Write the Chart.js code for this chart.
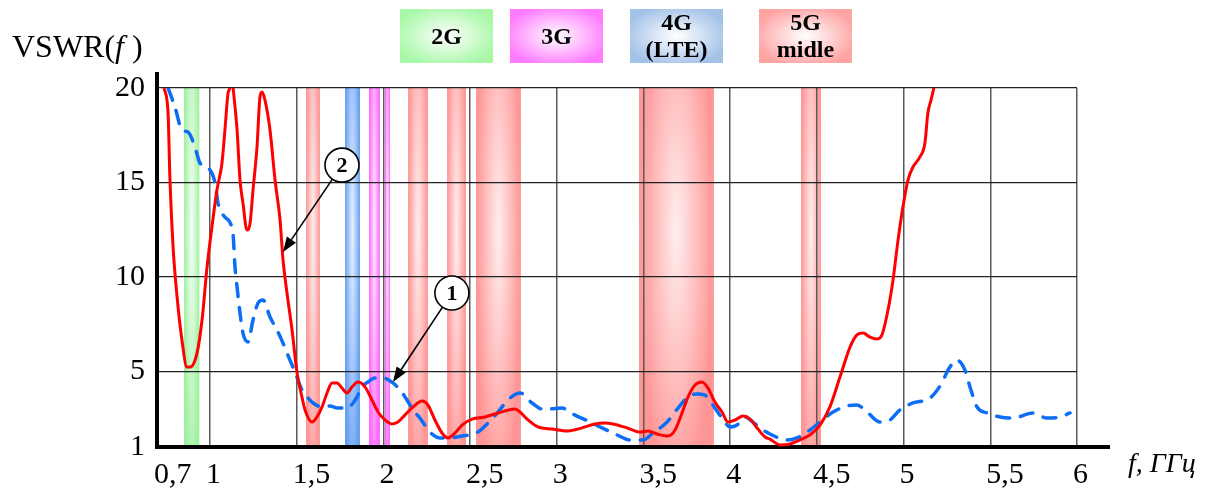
<!DOCTYPE html>
<html>
<head>
<meta charset="utf-8">
<script src="https://cdn.jsdelivr.net/npm/chart.js@4.4.1/dist/chart.umd.min.js"></script>
<style>
  body { margin: 0; background: #fff; }
  #wrap { position: relative; width: 1216px; height: 490px; font-family: "Liberation Serif", "Times New Roman", serif; }
  #wrap canvas { position: absolute; left: 0; top: 0; }
  .lbl { position: absolute; z-index: 2; color: #000; white-space: nowrap; }
  .box { position: absolute; z-index: 2; top: 9px; width: 93px; height: 54px; display: flex; align-items: center; justify-content: center;
         text-align: center; font-weight: bold; font-size: 24px; line-height: 27px; }
</style>
</head>
<body>
<div id="wrap">
  <canvas id="myChart" width="1216" height="490"></canvas>
  <div class="lbl" style="left:12px;top:30px;font-size:32px;line-height:32px;">VSWR(<i>f</i>&nbsp;)</div>
  <div class="lbl" style="left:1128px;top:449px;font-size:28px;line-height:28px;font-style:italic;">f, ГГц</div>
  <div class="box" style="left:400px;background:radial-gradient(ellipse at center,#ffffff 0%,#a8f8a8 80%);">2G</div>
  <div class="box" style="left:510px;background:radial-gradient(ellipse at center,#ffffff 0%,#ff7cff 80%);">3G</div>
  <div class="box" style="left:630px;background:radial-gradient(ellipse at center,#ffffff 0%,#a3c2e8 80%);">4G<br>(LTE)</div>
  <div class="box" style="left:759px;background:radial-gradient(ellipse at center,#ffffff 0%,#ffa3a3 80%);">5G<br>midle</div>
</div>
<script>
// частота, ГГц / КСВН

const xTicks = [0.7, 1, 1.5, 2, 2.5, 3, 3.5, 4, 4.5, 5, 5.5, 6];
const yTicks = [1, 5, 10, 15, 20];

// кривая 2 (красная)
const redFreq = [
  0.735, 0.758, 0.769, 0.787, 0.810, 0.838, 0.867, 0.885, 0.925, 0.954,
  0.983, 1.011, 1.040, 1.069, 1.086, 1.104, 1.115, 1.124, 1.133, 1.156,
  1.173, 1.190, 1.213, 1.231, 1.248, 1.271, 1.288, 1.300, 1.317, 1.346,
  1.375, 1.404, 1.421, 1.444, 1.473, 1.502, 1.530, 1.548, 1.588, 1.617,
  1.646, 1.675, 1.703, 1.732, 1.761, 1.790, 1.819, 1.853, 1.894, 1.934,
  1.969, 2.009, 2.049, 2.084, 2.124, 2.171, 2.223, 2.257, 2.297, 2.338,
  2.372, 2.413, 2.453, 2.511, 2.586, 2.661, 2.759, 2.788, 2.834, 2.891,
  2.972, 3.064, 3.145, 3.220, 3.278, 3.324, 3.405, 3.480, 3.526, 3.578,
  3.641, 3.682, 3.722, 3.757, 3.797, 3.837, 3.872, 3.912, 3.953, 3.987,
  4.028, 4.074, 4.114, 4.155, 4.201, 4.229, 4.287, 4.345, 4.402, 4.460,
  4.518, 4.575, 4.633, 4.691, 4.731, 4.766, 4.806, 4.847, 4.875, 4.910,
  4.939, 4.968, 4.996, 5.025, 5.054, 5.094, 5.123, 5.140, 5.158, 5.175, 5.19
];
const redVswr = [
  20.0, 18.68, 15.13, 11.58, 8.94, 6.66, 5.23, 5.23, 5.97, 7.72,
  10.53, 12.64, 14.60, 16.03, 17.78, 19.73, 20.05, 21.0, 20.05, 17.78,
  15.13, 13.91, 12.48, 12.85, 14.60, 16.88, 19.52, 19.79, 19.36, 17.78,
  15.13, 13.01, 10.90, 9.15, 7.19, 4.92, 3.65, 2.96, 2.32, 2.59,
  3.12, 3.86, 4.39, 4.39, 4.12, 3.86, 4.18, 4.44, 4.18, 3.49,
  2.85, 2.43, 2.22, 2.32, 2.69, 3.12, 3.43, 3.22, 2.43, 1.74,
  1.48, 1.74, 2.16, 2.48, 2.59, 2.80, 3.01, 2.85, 2.43, 2.06,
  1.95, 1.85, 2.01, 2.22, 2.27, 2.22, 2.01, 1.79, 1.85, 1.69,
  1.58, 1.90, 2.80, 3.65, 4.28, 4.44, 4.12, 3.38, 2.85, 2.32,
  2.43, 2.64, 2.48, 2.01, 1.53, 1.42, 1.11, 1.16, 1.37, 1.64,
  2.16, 3.12, 4.70, 6.29, 6.93, 7.03, 6.82, 6.72, 6.93, 8.25,
  9.84, 11.95, 13.70, 15.13, 15.82, 16.35, 17.09, 18.68, 19.36, 20.05, 21.0
];

// кривая 1 (синяя, пунктир)
const blueFreq = [
  0.758, 0.798, 0.838, 0.873, 0.913, 0.942, 1.000, 1.029, 1.046, 1.086,
  1.132, 1.144, 1.156, 1.173, 1.190, 1.219, 1.248, 1.277, 1.306, 1.346,
  1.386, 1.421, 1.461, 1.490, 1.530, 1.565, 1.594, 1.646, 1.692, 1.738,
  1.796, 1.825, 1.848, 1.876, 1.911, 1.951, 1.998, 2.055, 2.096, 2.136,
  2.171, 2.211, 2.251, 2.286, 2.326, 2.372, 2.453, 2.545, 2.603, 2.661,
  2.718, 2.788, 2.857, 2.915, 2.949, 3.030, 3.105, 3.180, 3.261, 3.347,
  3.422, 3.497, 3.555, 3.636, 3.699, 3.757, 3.808, 3.854, 3.900, 3.953,
  3.999, 4.039, 4.085, 4.131, 4.189, 4.229, 4.327, 4.385, 4.460, 4.518,
  4.593, 4.673, 4.731, 4.789, 4.864, 4.921, 4.979, 5.054, 5.152, 5.221,
  5.256, 5.308, 5.354, 5.383, 5.423, 5.481, 5.556, 5.631, 5.746, 5.827, 5.902, 5.960
];
const blueVswr = [
  20.0, 18.99, 17.78, 17.67, 16.88, 16.03, 15.66, 14.97, 13.91, 13.17,
  12.33, 10.53, 9.47, 8.09, 7.03, 6.56, 7.72, 8.62, 8.78, 7.88,
  7.19, 6.50, 5.60, 4.97, 4.02, 3.59, 3.33, 3.12, 3.17, 3.06,
  3.06, 3.33, 3.65, 4.18, 4.44, 4.65, 4.65, 4.39, 4.02, 3.49,
  2.96, 2.53, 2.01, 1.64, 1.48, 1.48, 1.58, 1.79, 2.27, 2.85,
  3.49, 3.86, 3.33, 3.01, 3.01, 3.06, 2.69, 2.38, 2.01, 1.64,
  1.37, 1.37, 1.74, 2.32, 3.06, 3.65, 3.81, 3.75, 3.22, 2.53,
  2.06, 2.16, 2.59, 2.32, 1.90, 1.69, 1.37, 1.48, 1.90, 2.32,
  2.85, 3.17, 3.22, 2.85, 2.32, 2.43, 2.96, 3.33, 3.59, 4.39,
  5.07, 5.60, 5.07, 4.18, 3.12, 2.80, 2.59, 2.53, 2.80, 2.53, 2.59, 2.80
];

// диапазоны связи, ГГц
const bandStart = [0.85, 1.553, 1.778, 1.917, 2.009, 2.142, 2.367, 2.534, 3.474, 4.408];
const bandEnd   = [0.94, 1.634, 1.865, 1.980, 2.038, 2.257, 2.476, 2.793, 3.906, 4.524];
const bandType  = ['2G', '5G', '4G', '3G', '3G', '5G', '5G', '5G', '5G', '5G'];

const bandStyle = {
  '2G': { edge: '#a0f0a0', mid: '#f4fff4' },
  '3G': { edge: '#ff6aff', mid: '#ffe6ff' },
  '4G': { edge: '#67a0f2', mid: '#e6f0ff' },
  '5G': { edge: '#ff9696', mid: '#ffeeee' }
};

// выноски: номер кривой, кружок и конец стрелки (ГГц, КСВН)
const notes = [
  { text: '2', cx: 1.761, cy: 15.92, tx: 1.421, ty: 11.32 },
  { text: '1', cx: 2.395, cy: 9.15, tx: 2.055, ty: 4.44 }
];

const toPoints = (fs, vs) => fs.map((f, i) => ({ x: f, y: vs[i] }));
const fmt = v => String(v).replace('.', ',');

const bandsPlugin = {
  id: 'bands',
  beforeDraw(chart) {
    const { ctx, chartArea: a, scales: { x } } = chart;
    const h = a.bottom - a.top;
    bandStart.forEach((s, i) => {
      const x0 = x.getPixelForValue(s);
      const x1 = x.getPixelForValue(bandEnd[i]);
      const st = bandStyle[bandType[i]];
      ctx.save();
      ctx.beginPath();
      ctx.rect(x0, a.top, x1 - x0, h);
      ctx.clip();
      ctx.translate((x0 + x1) / 2, a.top + h * 0.4);
      ctx.scale((x1 - x0) / 2, h * 0.75);
      const g = ctx.createRadialGradient(0, 0, 0, 0, 0, 1);
      g.addColorStop(0, st.mid);
      g.addColorStop(1, st.edge);
      ctx.fillStyle = g;
      ctx.fillRect(-1, -2, 2, 4);
      ctx.restore();
    });
  }
};

const axesPlugin = {
  id: 'axes',
  beforeDatasetsDraw(chart) {
    const { ctx, chartArea: a } = chart;
    ctx.save();
    ctx.strokeStyle = '#000';
    ctx.lineWidth = 4;
    ctx.beginPath();
    ctx.moveTo(a.left - 1, a.top - 16);
    ctx.lineTo(a.left - 1, a.bottom + 2);
    ctx.moveTo(a.left - 3, a.bottom);
    ctx.lineTo(a.right + 33, a.bottom);
    ctx.stroke();
    ctx.restore();
  }
};

const notesPlugin = {
  id: 'notes',
  afterDatasetsDraw(chart) {
    const { ctx, scales: { x, y } } = chart;
    const r = 17;
    notes.forEach(n => {
      const cx = x.getPixelForValue(n.cx), cy = y.getPixelForValue(n.cy);
      const tx = x.getPixelForValue(n.tx), ty = y.getPixelForValue(n.ty);
      const ang = Math.atan2(ty - cy, tx - cx);
      const sx = cx + r * Math.cos(ang), sy = cy + r * Math.sin(ang);
      const hl = 15, hw = 5.5;
      const bx = tx - hl * Math.cos(ang), by = ty - hl * Math.sin(ang);
      ctx.save();
      ctx.strokeStyle = '#000';
      ctx.fillStyle = '#000';
      ctx.lineWidth = 1.6;
      ctx.beginPath();
      ctx.moveTo(sx, sy);
      ctx.lineTo(bx, by);
      ctx.stroke();
      ctx.beginPath();
      ctx.moveTo(tx, ty);
      ctx.lineTo(bx + hw * Math.sin(ang), by - hw * Math.cos(ang));
      ctx.lineTo(bx - hw * Math.sin(ang), by + hw * Math.cos(ang));
      ctx.closePath();
      ctx.fill();
      ctx.beginPath();
      ctx.arc(cx, cy, r, 0, Math.PI * 2);
      ctx.fillStyle = '#fff';
      ctx.fill();
      ctx.lineWidth = 1.6;
      ctx.stroke();
      ctx.fillStyle = '#000';
      ctx.font = 'bold 22px "Liberation Serif", serif';
      ctx.textAlign = 'center';
      ctx.textBaseline = 'middle';
      ctx.fillText(n.text, cx, cy + 1);
      ctx.restore();
    });
  }
};

const graphArea = document.getElementById('myChart').getContext('2d');
const myChart = new Chart(graphArea, {
  type: 'line',
  data: {
    datasets: [
      {
        label: '2',
        data: toPoints(redFreq, redVswr),
        borderColor: '#ff0000',
        borderWidth: 3,
        pointRadius: 0,
        fill: false,
        cubicInterpolationMode: 'monotone'
      },
      {
        label: '1',
        data: toPoints(blueFreq, blueVswr),
        borderColor: '#0b6ef5',
        borderWidth: 3.5,
        borderDash: [13, 11],
        borderCapStyle: 'round',
        pointRadius: 0,
        fill: false,
        cubicInterpolationMode: 'monotone'
      }
    ]
  },
  options: {
    responsive: false,
    animation: false,
    layout: { padding: { top: 88, right: 139, left: 0, bottom: 0 } },
    plugins: { legend: { display: false }, tooltip: { enabled: false } },
    scales: {
      x: {
        type: 'linear',
        min: 0.7,
        max: 6,
        afterBuildTicks: s => { s.ticks = xTicks.map(v => ({ value: v })); },
        afterFit: s => { s.height = 43; },
        border: { display: false },
        grid: { color: '#5a5a5a', lineWidth: 1.5, drawTicks: false },
        ticks: {
          padding: 10,
          align: 'start',
          labelOffset: -4,
          color: '#000',
          font: { family: '"Liberation Serif", serif', size: 30 },
          callback: v => fmt(v)
        }
      },
      y: {
        min: 1,
        max: 20,
        afterBuildTicks: s => { s.ticks = yTicks.map(v => ({ value: v })); },
        afterFit: s => { s.width = 158; },
        border: { display: false },
        grid: { color: '#222', lineWidth: 1.3, drawTicks: false },
        ticks: {
          padding: 13,
          color: '#000',
          font: { family: '"Liberation Serif", serif', size: 30 },
          callback: v => fmt(v)
        }
      }
    }
  },
  plugins: [bandsPlugin, axesPlugin, notesPlugin]
});
</script>
</body>
</html>
